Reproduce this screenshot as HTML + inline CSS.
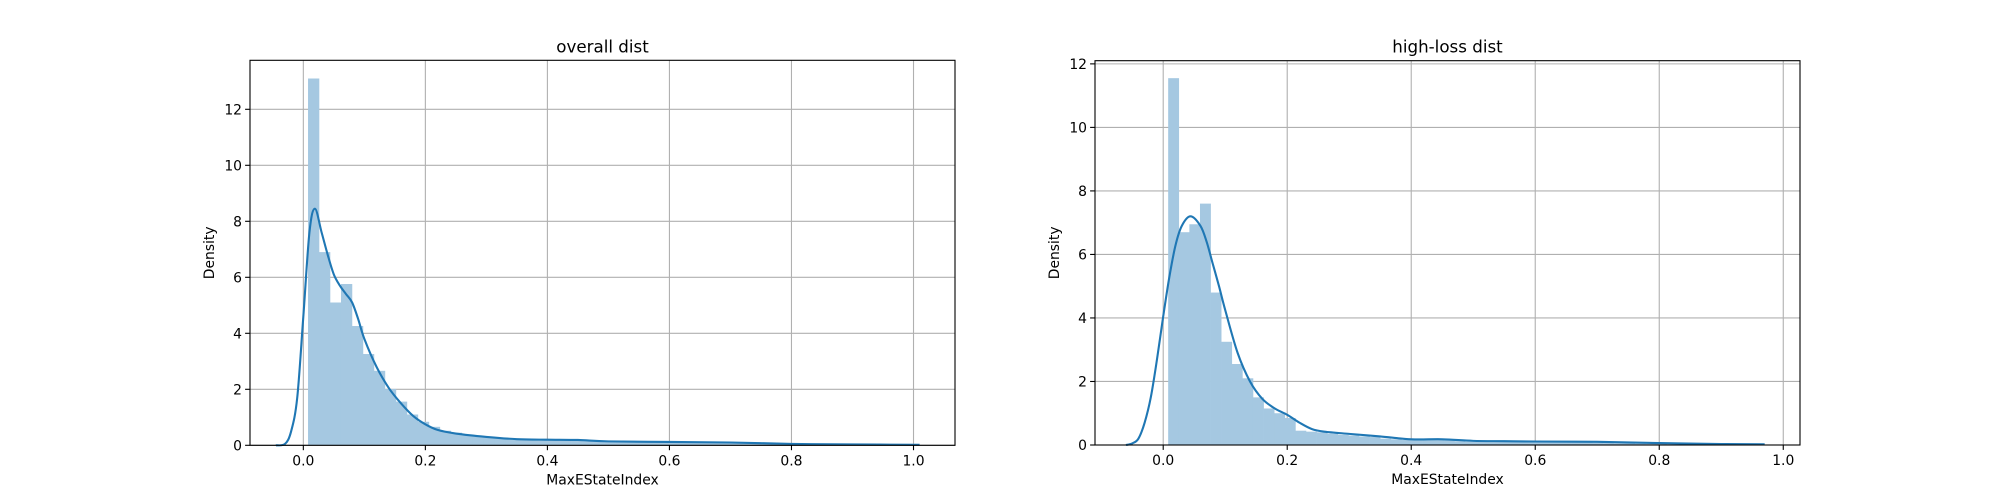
<!DOCTYPE html>
<html><head><meta charset="utf-8"><style>
html,body{margin:0;padding:0;background:#fff;}
svg{display:block;font-family:"DejaVu Sans","Liberation Sans",sans-serif;}
</style></head><body>
<svg id="fig" width="2000" height="500" viewBox="0 0 2000 500" xmlns="http://www.w3.org/2000/svg"></svg>
<script>
// ---- data: overall dist ----
const leftBinStart = 0.0077;
const leftBinWidth = 0.018;
const leftBars = [13.1,6.9,5.1,5.76,4.26,3.26,2.66,2.01,1.56,1.1,0.84,0.66,0.52,0.45,0.38,0.33,0.29,0.26,0.24,0.22,0.2,0.2,0.19,0.18,0.17,0.15,0.14,0.14,0.13,0.13,0.12,0.12,0.12,0.11,0.11,0.1,0.1,0.09,0.09,0.08,0.08,0.07,0.06,0.05,0.05,0.04,0.04,0.03,0.03,0.03,0.02,0.02,0.02,0.02,0.02];
const leftKdeX = [-0.045,-0.03,-0.02,-0.01,0.0,0.01,0.019,0.03,0.04,0.05,0.06,0.07,0.08,0.09,0.1,0.12,0.14,0.16,0.18,0.2,0.22,0.25,0.3,0.35,0.4,0.45,0.5,0.6,0.7,0.8,0.9,1.01];
const leftKdeY = [0,0.05,0.5,1.7,4.6,7.6,8.45,7.6,6.8,6.1,5.7,5.4,5.1,4.5,3.8,2.8,2.05,1.5,1.05,0.75,0.55,0.42,0.3,0.22,0.2,0.19,0.14,0.12,0.1,0.05,0.03,0.02];
// ---- data: high-loss dist ----
const rightBinStart = 0.008;
const rightBinWidth = 0.0171;
const rightBars = [11.55,6.7,6.95,7.6,4.8,3.25,2.55,2.1,1.5,1.15,1.0,0.85,0.45,0.42,0.4,0.35,0.32,0.3,0.27,0.25,0.2,0.18,0.16,0.17,0.18,0.16,0.14,0.12,0.1,0.13,0.12,0.1,0.1,0.12,0.11,0.1,0.1,0.1,0.09,0.08,0.07,0.06,0.05,0.05,0.04,0.03,0.03,0.02,0.02,0.02,0.02,0.02,0.02,0.01,0.01,0.01];
const rightKdeX = [-0.06,-0.05,-0.04,-0.03,-0.02,-0.01,0.0,0.01,0.02,0.03,0.044,0.06,0.07,0.08,0.09,0.1,0.12,0.14,0.16,0.18,0.2,0.22,0.24,0.26,0.3,0.35,0.4,0.45,0.5,0.55,0.6,0.7,0.8,0.9,0.97];
const rightKdeY = [0,0.05,0.2,0.7,1.5,2.7,4.05,5.3,6.3,6.9,7.2,6.9,6.4,5.7,5.0,4.25,2.9,2.0,1.45,1.15,0.95,0.7,0.5,0.42,0.35,0.27,0.18,0.18,0.13,0.12,0.11,0.1,0.06,0.03,0.02];
const xTicks = [0.0,0.2,0.4,0.6,0.8,1.0];
const xTickLabels = ["0.0","0.2","0.4","0.6","0.8","1.0"];
const yTicks = [0,2,4,6,8,10,12];
const yTickLabels = ["0","2","4","6","8","10","12"];

const NS = "http://www.w3.org/2000/svg";
const svg = document.getElementById('fig');
function mk(tag, attrs, parent){const e=document.createElementNS(NS,tag);for(const k in attrs)e.setAttribute(k,attrs[k]);(parent||svg).appendChild(e);return e;}

function smoothPath(pts){
  let d='M'+pts[0][0].toFixed(2)+','+pts[0][1].toFixed(2);
  for(let i=0;i<pts.length-1;i++){
    const p0=pts[Math.max(i-1,0)],p1=pts[i],p2=pts[i+1],p3=pts[Math.min(i+2,pts.length-1)];
    const c1x=p1[0]+(p2[0]-p0[0])/6,c1y=p1[1]+(p2[1]-p0[1])/6;
    const c2x=p2[0]-(p3[0]-p1[0])/6,c2y=p2[1]-(p3[1]-p1[1])/6;
    d+='C'+c1x.toFixed(2)+','+c1y.toFixed(2)+' '+c2x.toFixed(2)+','+c2y.toFixed(2)+' '+p2[0].toFixed(2)+','+p2[1].toFixed(2);
  }
  return d;
}

function panel(cfg){
  const g = mk('g',{});
  
  
  const L=cfg.L,R=cfg.R,T=cfg.T,B=cfg.B;
  const sx = v => L + (v - cfg.xmin)/(cfg.xmax-cfg.xmin)*(R-L);
  const sy = v => B - (v - cfg.ymin)/(cfg.ymax-cfg.ymin)*(B-T);
  xTicks.forEach((t,i)=>{
    const l=mk('line',{x1:sx(t),x2:sx(t),y1:T,y2:B,stroke:'#b0b0b0','stroke-width':1.1},g);
    
    
  });
  yTicks.forEach(t=>{
    if(sy(t)<T) return;
    const l=mk('line',{x1:L,x2:R,y1:sy(t),y2:sy(t),stroke:'#b0b0b0','stroke-width':1.1},g);
    
    
  });
  cfg.bars.forEach((h,i)=>{
    const x0=sx(cfg.binStart+i*cfg.binWidth), x1=sx(cfg.binStart+(i+1)*cfg.binWidth);
    const r=mk('rect',{x:x0,y:sy(h),width:x1-x0+0.3,height:B-sy(h),fill:'#a5c8e1'},g);
    
    
  });
  const pts=cfg.kx.map((x,i)=>[sx(x),sy(cfg.ky[i])]);
  const p=mk('path',{d:smoothPath(pts),fill:'none',stroke:'#1f77b4','stroke-width':2.1,'stroke-linejoin':'round'},g);
  
  
  const f=mk('rect',{x:L,y:T,width:R-L,height:B-T,fill:'none',stroke:'#000','stroke-width':1.1},g);
  
  
  xTicks.forEach((t,i)=>{
    mk('line',{x1:sx(t),x2:sx(t),y1:B,y2:B+4.9,stroke:'#000','stroke-width':1.1},g);
    const tx=mk('text',{x:sx(t),y:B+20,'font-size':13.9,'text-anchor':'middle',fill:'#000'},g);
    tx.textContent=xTickLabels[i];
    
    
  });
  yTicks.forEach((t,i)=>{
    if(sy(t)<T-1) return;
    mk('line',{x1:L-4.9,x2:L,y1:sy(t),y2:sy(t),stroke:'#000','stroke-width':1.1},g);
    const tx=mk('text',{x:L-8,y:sy(t)+5,'font-size':13.9,'text-anchor':'end',fill:'#000'},g);
    tx.textContent=yTickLabels[i];
    
    
  });
  const ttl=mk('text',{x:(L+R)/2,y:T-8,'font-size':16.7,'text-anchor':'middle',fill:'#000'},g);
  ttl.textContent=cfg.title;
  
  
  const xl=mk('text',{x:(L+R)/2,y:B+39,'font-size':13.9,'text-anchor':'middle',fill:'#000'},g);
  xl.textContent='MaxEStateIndex';
  
  
  const yx=cfg.ylabX, yy=(T+B)/2;
  const yl=mk('text',{x:yx,y:yy,'font-size':13.9,'text-anchor':'middle',fill:'#000',transform:`rotate(-90 ${yx} ${yy})`},g);
  yl.textContent='Density';
  
  
}
panel({name:'overall-dist-chart',title:'overall dist',L:250,R:955,T:60.3,B:445.3,xmin:-0.0874,xmax:1.068,ymin:0,ymax:13.75,
  bars:leftBars,binStart:leftBinStart,binWidth:leftBinWidth,kx:leftKdeX,ky:leftKdeY,ylabX:214});
panel({name:'high-loss-dist-chart',title:'high-loss dist',L:1095,R:1800,T:60.7,B:445,xmin:-0.110,xmax:1.027,ymin:0,ymax:12.1,
  bars:rightBars,binStart:rightBinStart,binWidth:rightBinWidth,kx:rightKdeX,ky:rightKdeY,ylabX:1059});
</script>
</body></html>
